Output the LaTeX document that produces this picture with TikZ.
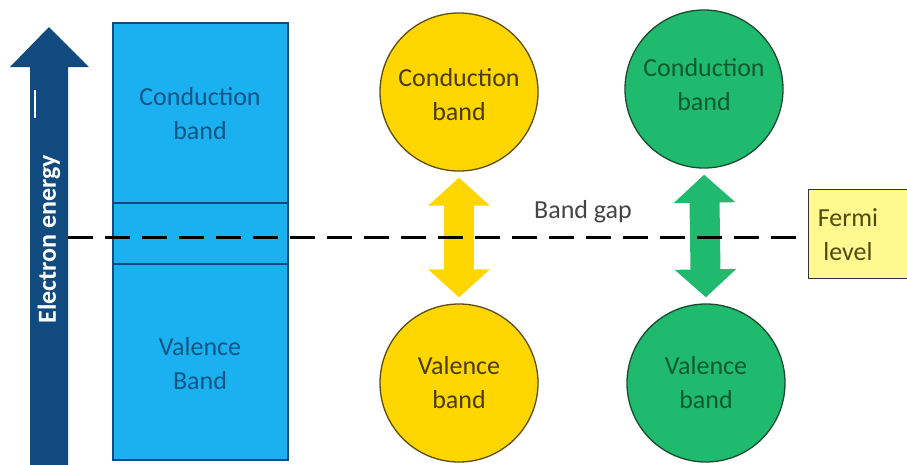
\documentclass[tikz,border=0pt]{standalone}
\usepackage{fontspec}
\setmainfont{Carlito}
\usetikzlibrary{arrows.meta}
\definecolor{navy}{HTML}{114A7E}
\definecolor{skyb}{HTML}{1BB1F0}
\definecolor{skytxt}{HTML}{0F5585}
\definecolor{gold}{HTML}{FFD600}
\definecolor{goldline}{HTML}{5C4E10}
\definecolor{goldtxt}{HTML}{4A3C05}
\definecolor{grn}{HTML}{20BA6E}
\definecolor{grnline}{HTML}{1A4A30}
\definecolor{grntxt}{HTML}{0E5A30}
\definecolor{fermifill}{HTML}{FFF98F}
\definecolor{fermitxt}{HTML}{4F4A10}
\definecolor{gaptxt}{HTML}{454545}
\tikzset{
  lbl/.style={font=\fontsize{26}{34}\selectfont, align=center, inner sep=0pt},
  bandcirc/.style={circle, minimum size=158pt, inner sep=0pt, line width=1.3pt, lbl},
  ycirc/.style={bandcirc, fill=gold, draw=goldline, text=goldtxt},
  gcirc/.style={bandcirc, fill=grn, draw=grnline, text=grntxt},
  dblarrow/.style={line width=30pt, draw=#1,
    {Triangle[width=60pt,length=28pt]}-{Triangle[width=60pt,length=28pt]},
    shorten <=6pt, shorten >=6pt},
  fermiline/.style={dash pattern=on 25pt off 12pt, line width=3pt, black},
}
\begin{document}
\begin{tikzpicture}[x=1pt,y=-1pt]
\clip (0,0) rectangle (907,464);
\fill[white] (0,0) rectangle (907,464);
% energy axis arrow
\fill[navy] (30,470) -- (30,67) -- (10,67) -- (49,27) -- (89,67) -- (68,67) -- (68,470) -- cycle;
\draw[white, line width=1.2pt] (35,90) -- (35,118);
\node[font=\fontsize{26}{30}\selectfont\bfseries, text=white, rotate=90, inner sep=0pt] (elabel) at (49,239) {Electron energy};
% solid band block
\node[rectangle, fill=skyb, draw=navy, line width=1.5pt, minimum width=175pt, minimum height=437pt, inner sep=0pt] (block) at (200.5,241.5) {};
\draw[navy, line width=1.5pt] (block.west |- 0,203) -- (block.east |- 0,203);
\draw[navy, line width=1.5pt] (block.west |- 0,264) -- (block.east |- 0,264);
\node[lbl, text=skytxt] (bcond) at (200,114) {Conduction\\band};
\node[lbl, text=skytxt] (bval) at (200,364) {Valence\\Band};
% circles
\node[ycirc, label={[lbl, text=goldtxt, yshift=-3pt]center:Conduction\\band}] (yc) at (459,92) {};
\node[ycirc] (yv) at (459,383) {Valence\\band};
\node[gcirc, label={[lbl, text=grntxt, yshift=4pt]center:Conduction\\band}] (gc) at (704,89) {};
\node[gcirc] (gv) at (706,383) {Valence\\band};
\draw[dblarrow=gold] (yc.south) -- (yv.north);
\draw[dblarrow=grn] (gc.south) -- (gv.north);
% band gap label
\node[lbl, text=gaptxt] (gap) at (583,212) {Band gap};
% Fermi box
\node[rectangle, fill=fermifill, draw=black!80, line width=1.3pt, anchor=north west, minimum width=130pt, minimum height=89pt, inner sep=0pt] (fermi) at (808,189) {};
\node[lbl, text=fermitxt] (fermilbl) at (848,235) {Fermi\\level};
% Fermi level dashed line
\coordinate (dstart) at (68,237);
\draw[fermiline] (dstart) -- (dstart -| fermi.west);
\end{tikzpicture}
\end{document}
